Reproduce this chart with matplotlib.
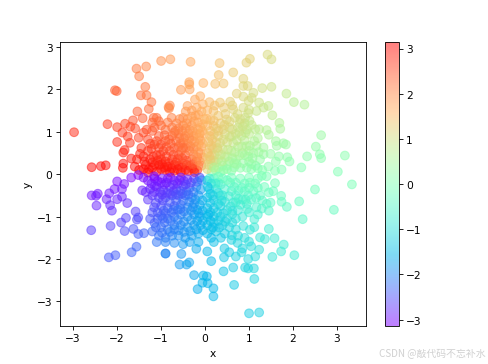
import numpy as np
import matplotlib
matplotlib.use("Agg")
import matplotlib.pyplot as plt

upper_left = [
(-2.98,.99),(-2.22,1.18),(-2.0,1.11),(-2.05,1.98),(-2.01,1.96),(-1.56,2.49),(-1.34,2.54),(-1.5,2.31),(-1.0,2.67),(-.79,2.71),
(-.33,2.65),(-.36,2.17),(-.36,2.12),(-.04,2.15),(-.55,1.99),(-.35,2.0),(-1.36,2.06),(-1.46,1.86),(-1.33,1.86),(-1.22,1.7),
(-1.28,1.54),(-1.54,1.48),(-.83,1.58),(-.8,1.62),(-2.58,.165),(-2.37,.19),(-2.26,.21),(-1.86,.25),(-1.87,.15),(-1.68,.37),
(-1.86,.51),(-1.83,.57),(-2.0,.76),(-1.71,.74),(-1.76,.89),(-1.88,.98),(-1.82,1.19),(-1.64,1.27),(-1.7,1.12),(-1.59,1.08),
(-1.42,1.32),(-1.17,1.33),(-1.1,1.33),(-1.51,.86),(-1.33,1.05),(-1.2,1.02),(-1.0,1.15),(-.76,1.33),(-.82,1.55),(-.4,1.61),
(-.5,1.33),(-.23,1.76),(-.11,1.84),(-.19,1.57),(-.05,1.65),
(-1.45,.62),(-1.3,.55),(-1.15,.7),(-1.4,.42),(-1.25,.35),(-1.1,.45),(-.95,.55),(-1.55,.35),(-1.6,.18),(-1.4,.12),
(-1.2,.15),(-1.05,.22),(-.9,.3),(-.75,.35),(-.6,.2),(-.45,.1),(-.7,.08),(-.9,.1),(-1.1,.06),(-1.3,.04),
(-.85,.18),(-.5,.25),(-.35,.2),(-.25,.12),(-1.0,.35),(-.7,.22),(-1.0,.12),(-.55,.05),(-.8,.05),(-1.2,.28),
(-1.3,.82),(-1.05,.9),(-.9,.78),(-.75,.9),(-.6,.65),(-.8,.55),(-.6,.45),(-.45,.45),(-.35,.55),(-.5,.75),
(-.3,.35),(-.2,.3),(-.15,.2),(-.9,1.05),(-.75,1.1),(-.6,.95),(-.45,.9),(-.3,.8),(-.2,.65),(-.1,.5),
(-.65,1.2),(-.5,1.15),(-.35,1.05),(-.2,.95),(-.1,.8),(-.05,.4),(-.4,1.3),(-.25,1.25),(-.1,1.1),(-.15,1.4),
(-.3,1.5),(-.02,1.3),(-.02,.95),(-.08,.65),(-1.2,1.22),(-1.05,1.25),(-1.4,.98),(-1.15,1.1),(-.85,1.22),
]
upper_left_dense = [
(-1.5,.1),(-1.35,.22),(-1.28,.12),(-1.15,.22),(-1.08,.32),(-.98,.24),(-.92,.16),(-.82,.26),(-.76,.14),(-.66,.28),
(-.62,.12),(-.52,.16),(-.42,.22),(-.38,.08),(-.3,.14),(-.24,.05),(-.18,.09),(-1.18,.42),(-1.02,.46),(-.88,.42),
(-.72,.46),(-.62,.36),(-.52,.38),(-.42,.32),(-.28,.24),(-1.48,.48),(-1.22,.6),(-1.05,.62),(-.88,.64),(-.7,.62),
(-.54,.56),(-.44,.62),(-.26,.46),(-.18,.4),(-.12,.3),(-.08,.2),(-1.1,.78),(-.82,.82),(-.66,.78),(-.58,.86),
(-.4,.72),(-.26,.6),(-.15,.52),(-.14,.72),(-.68,1.02),(-.52,1.02),(-.38,.96),(-.26,.9),(-.12,.95),(-.05,.72),
(-.58,1.3),(-.3,1.15),(-.16,1.22),(-.05,1.18),(-.44,1.48),(-.08,1.48),(-.22,1.38),
(-.78,.72),(-.56,.72),(-.34,.66),(-.48,.85),(-.36,.84),(-.24,.76),(-.7,.98),(-.44,1.08),(-.28,1.02),(-.16,1.06),
(-.6,1.08),(-.42,1.2),(-.3,1.36),(-.14,.86),(-.06,1.02),(-.5,.62),(-.92,.92),(-1.0,.7),(-1.25,.72),(-1.38,.3),
]
upper_right = [
(1.42,2.82),(1.51,2.71),(1.02,2.72),(.94,2.63),(.33,2.62),(.31,2.34),(.64,2.4),(.23,2.13),(.42,2.14),(.87,2.25),
(.87,2.08),(.97,2.08),(1.3,2.03),(1.51,2.06),(1.85,1.9),(2.02,1.7),(2.26,1.64),(.72,1.9),(1.1,1.92),(1.06,1.8),
(.99,1.73),(.87,1.83),(1.23,1.69),(1.44,1.61),(1.33,1.57),(1.17,1.49),(1.53,1.39),(1.69,1.21),(1.71,1.07),(1.23,1.06),
(1.14,1.06),(1.4,1.04),(1.45,.93),(1.61,.78),(1.63,.67),(1.78,.73),(1.84,.7),(2.64,.92),(2.52,.65),(2.61,.47),
(2.64,.38),(3.18,.44),(2.32,.42),(2.19,.16),(3.02,.06),(1.68,.42),(1.87,.4),(1.92,.3),(1.61,.3),(1.44,.18),
(1.74,.11),(1.59,.08),(1.49,.48),(1.33,.47),(1.33,.63),(.34,1.69),(.57,1.71),(.19,1.49),(.43,1.57),(.64,1.53),
(.87,1.57),(.68,1.33),(.79,1.21),(.91,1.33),(1.01,1.26),(.49,1.29),(.41,1.06),(.61,.9),(.83,.9),(1.02,.67),
(1.17,.67),(.64,.74),(.34,.74),(.19,1.14),(.11,.9),
(.05,1.5),(.1,1.7),(.05,1.15),(.2,.95),(.25,.75),(.1,.6),(.05,.35),(.15,.45),(.3,.55),(.4,.6),
(.5,.75),(.45,.95),(.35,1.2),(.3,.35),(.45,.4),(.6,.55),(.75,.65),(.9,.8),(.15,.2),(.3,.15),
(.5,.2),(.7,.35),(.9,.45),(1.1,.5),(1.25,.35),(1.0,.3),(.8,.15),(.6,.08),(.35,.05),(.15,.06),
(1.05,.12),(1.3,.1),(.7,.95),(.95,1.05),(.55,1.1),(.75,1.1),(1.0,.95),(1.2,.85),(.85,.5),(.25,.28),
(.55,.3),(.05,.12),(.4,.2),(.95,.15),(1.15,.2),
]
upper_right_dense = [
(.08,.22),(.2,.32),(.12,.34),(.24,.1),(.42,.1),(.5,.12),(.66,.16),(.72,.24),(.86,.26),(1.06,.24),
(1.2,.14),(.38,.3),(.5,.42),(.62,.38),(.78,.44),(.98,.42),(1.22,.52),(.18,.6),(.22,.46),(.36,.46),
(.52,.58),(.68,.52),(.84,.66),(1.0,.55),(1.12,.78),(.06,.5),(.08,.76),(.16,.82),(.3,.9),(.42,.82),
(.56,.88),(.72,.8),(.92,.98),(.12,1.02),(.26,1.08),(.62,1.06),(.86,1.12),(.56,1.24),(.12,1.28),(.3,1.38),
(.74,1.42),(.98,1.44),(.22,1.62),(.04,1.3),(.46,1.42),(.62,1.62),
(.9,1.2),(.8,1.3),(1.06,1.16),(1.0,1.52),(.78,1.0),(.94,.66),(1.08,.38),(.2,.16),(.1,.42),(.28,.62),
(.14,.68),(.66,.26),(.3,1.02),(.2,1.26),(.44,1.16),
]
lower_left = [
(-2.59,-1.32),(-2.15,-1.22),(-2.19,-1.96),(-2.04,-1.91),(-1.67,-1.84),(-1.56,-1.71),(-.9,-1.87),(-.9,-1.87),(-.54,-1.88),(-.58,-2.13),
(-.42,-2.13),(-.36,-2.08),(-.2,-1.76),(-.25,-2.38),(-.04,-2.39),(-.06,-2.56),(-.17,-2.71),(-2.58,-.5),(-2.44,-.46),(-2.48,-.51),
(-2.47,-.74),(-2.12,-.86),(-2.24,-.59),(-2.18,-.45),(-2.06,-.35),(-2.0,-.17),(-1.84,-.23),(-1.89,-.35),(-2.16,-.73),(-2.0,-.59),
(-1.89,-.53),(-1.77,-.68),(-1.58,-.88),(-1.8,-1.03),(-1.91,-1.14),(-1.83,-1.34),(-1.63,-1.29),(-1.55,-1.07),(-1.52,-1.02),(-1.52,-1.41),
(-1.39,-1.39),(-1.68,-.08),(-1.52,-.02),(-1.43,-.38),
(-1.3,-.15),(-1.15,-.1),(-1.0,-.2),(-.85,-.1),(-.7,-.15),(-.55,-.08),(-.4,-.12),(-.25,-.1),(-.12,-.08),(-1.25,-.35),
(-1.1,-.3),(-.95,-.38),(-.8,-.3),(-.65,-.35),(-.5,-.28),(-.35,-.32),(-.2,-.3),(-1.2,-.5),(-1.05,-.55),(-.9,-.55),
(-.75,-.5),(-.6,-.5),(-.45,-.5),(-.3,-.55),(-.15,-.5),(-1.3,-.6),(-1.0,-.75),(-.85,-.8),(-.7,-.75),(-.55,-.72),
(-.4,-.78),(-.25,-.7),(-.12,-.72),(-1.2,-.9),(-1.0,-.98),(-.85,-1.05),(-.7,-1.0),(-.55,-.95),(-.4,-1.0),(-.25,-.95),
(-.12,-1.0),(-1.15,-1.15),(-1.0,-1.25),(-.85,-1.3),(-.7,-1.2),(-.55,-1.2),(-.4,-1.25),(-.25,-1.2),(-.1,-1.2),(-1.2,-1.35),
(-1.05,-1.45),(-.9,-1.5),(-.75,-1.45),(-.6,-1.45),(-.45,-1.5),(-.3,-1.45),(-.15,-1.4),(-.7,-1.62),(-.5,-1.65),(-.35,-1.6),
(-.15,-1.6),(-1.1,-1.6),(-.9,-1.6),
]
lower_left_dense = [
(-1.4,-.08),(-1.22,-.22),(-1.08,-.16),(-.92,-.24),(-.78,-.08),(-.62,-.22),(-.48,-.16),(-.32,-.2),(-.18,-.18),(-.08,-.14),
(-1.35,-.42),(-1.16,-.42),(-1.02,-.42),(-.86,-.44),(-.72,-.4),(-.56,-.4),(-.42,-.4),(-.26,-.42),(-.1,-.36),(-1.12,-.68),
(-.96,-.62),(-.8,-.66),(-.66,-.62),(-.5,-.62),(-.36,-.65),(-.22,-.6),(-.06,-.62),(-.94,-.86),(-.76,-.9),(-.62,-.84),
(-.48,-.88),(-.32,-.86),(-.18,-.84),(-.06,-.86),(-1.08,-1.05),(-.92,-1.14),(-.78,-1.1),(-.62,-1.08),(-.48,-1.12),(-.32,-1.08),
(-.18,-1.1),(-.05,-1.1),(-.8,-1.36),(-.6,-1.32),(-.34,-1.34),(-.2,-1.3),(-.05,-1.32),(-.98,-1.38),
(-1.16,-.05),(-.98,-.1),(-.88,-.2),(-.72,-.25),(-.58,-.14),(-.44,-.24),(-1.14,-.28),(-.98,-.48),(-.8,-.46),(-.66,-.48),
(-.52,-.46),(-.38,-.48),(-1.16,-.78),(-1.08,-.9),(-.9,-.92),(-.72,-.84),(-.56,-.82),(-1.25,-1.05),(-1.12,-1.25),(-.96,-1.04),
(-.7,-1.3),(-.48,-1.36),(-.28,-.78),(-.14,-.92),
]
lower_right = [
(1.0,-3.28),(1.23,-3.26),(.19,-2.88),(.19,-2.69),(.66,-2.61),(.42,-2.29),(.64,-2.2),(.14,-2.05),(.05,-1.82),(.04,-2.41),
(.06,-2.57),(1.12,-2.47),(1.11,-2.22),(.91,-2.2),(.98,-2.22),(.43,-1.96),(.44,-1.75),(.55,-1.84),(.7,-1.94),(.83,-1.84),
(.98,-2.0),(1.14,-1.94),(1.23,-1.78),(1.53,-1.95),(1.73,-1.82),(1.79,-1.66),(2.03,-1.91),(1.58,-1.51),(1.36,-1.53),(1.25,-1.49),
(1.45,-1.29),(1.0,-1.59),(.74,-1.62),(.61,-1.44),(1.02,-1.31),(1.12,-1.25),(1.12,-1.06),(.87,-1.22),(1.45,-.86),(1.86,-.77),
(1.74,-.65),(1.73,-.51),(2.22,-1.06),(2.14,-.64),(2.5,-.36),(2.93,-.84),(3.34,-.24),(1.45,-.43),(1.59,-.21),(1.29,-.81),
(1.49,-.67),(1.17,-.78),(.95,-.7),(.64,-.67),(.34,-.51),(.76,-.39),(1.02,-.2),(.57,-.2),(.3,-.2),(1.29,-.04),
(.05,-.15),(.2,-.1),(.4,-.1),(.6,-.08),(.8,-.1),(1.0,-.08),(1.2,-.1),(1.4,-.05),(.1,-.35),(.25,-.35),
(.45,-.35),(.6,-.4),(.9,-.4),(1.1,-.4),(1.25,-.5),(.05,-.55),(.2,-.6),(.45,-.65),(.85,-.6),(1.05,-.6),
(.05,-.8),(.2,-.8),(.35,-.75),(.5,-.85),(.75,-.85),(.05,-1.0),(.2,-1.0),(.35,-1.0),(.5,-1.05),(.7,-1.05),
(.85,-1.0),(.05,-1.2),(.2,-1.15),(.4,-1.2),(.55,-1.25),(.7,-1.3),(.05,-1.4),(.25,-1.35),(.45,-1.4),(.6,-1.55),
(.75,-1.45),(.9,-1.5),(.85,-1.75),(1.05,-1.7),(.2,-1.6),(1.2,-.95),(1.0,-.9),(1.4,-.7),(1.55,-.4),(1.35,-.3),
]
lower_right_dense = [
(.1,-.1),(.14,-.22),(.3,-.06),(.36,-.24),(.5,-.14),(.7,-.2),(.9,-.22),(1.14,-.22),(.12,-.46),(.3,-.44),
(.4,-.5),(.54,-.52),(.7,-.5),(.98,-.5),(1.16,-.56),(.12,-.68),(.3,-.7),(.58,-.76),(.7,-.66),(.96,-.82),
(.12,-.9),(.28,-.9),(.42,-.92),(.62,-.94),(.12,-1.1),(.3,-1.1),(.46,-1.12),(.62,-1.14),(.14,-1.3),(.32,-1.26),
(.14,-1.5),(.36,-1.5),
(.66,-.3),(.84,-.32),(1.0,-.32),(1.2,-.32),(.76,-.58),(.92,-.6),(1.3,-.62),(.24,-.22),(.06,-.3),(.18,-.5),
(.8,-.72),(.62,-.86),(.38,-.62),(.18,-1.25),(.08,-.95),
]

x_label = "x"
y_label = "y"
watermark = "CSDN @敲代码不忘补水"

points = np.array(upper_left + upper_left_dense + upper_right + upper_right_dense
                  + lower_left + lower_left_dense + lower_right + lower_right_dense)
x, y = points[:, 0], points[:, 1]
angle = np.arctan2(y, x)

fig = plt.figure(figsize=(6.4, 4.777), dpi=76.4)
ax = fig.add_axes([0.1227, 0.104, 0.6258, 0.778])
cax = fig.add_axes([0.787, 0.104, 0.0286, 0.778])
sc = ax.scatter(x, y, c=angle, s=68, alpha=0.5, cmap="rainbow", vmin=-np.pi, vmax=np.pi)
ax.set_xlim(-3.3, 3.66)
ax.set_ylim(-3.58, 3.115)
ax.set_xlabel(x_label)
ax.set_ylabel(y_label)
fig.colorbar(sc, cax=cax)
fig.text(0.994, 0.031, watermark, ha="right", va="center", fontsize=9.3, color="#d0d0d0",
         family=["Noto Sans CJK SC", "DejaVu Sans"])
fig.savefig("out.png", dpi=76.4)
